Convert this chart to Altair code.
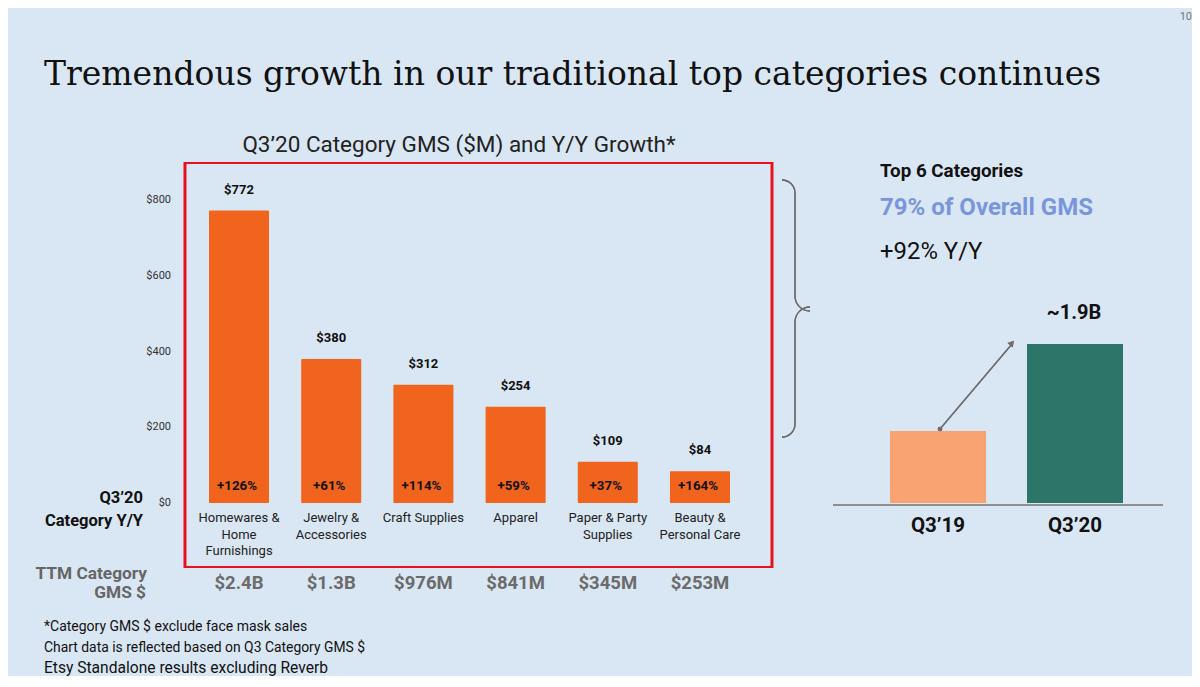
import altair as alt
import pandas as pd

OFF = 8
def P(v):
    return v - OFF

BG = "#D9E6F4"
ORANGE = "#F1641E"
SALMON = "#F9A272"
GREEN = "#2D7568"
BLUE = "#7A96DA"
FONT = "Roboto"

# ---------------- data ----------------
cat_keys = ["Homewares", "Jewelry", "Craft", "Apparel", "Paper", "Beauty"]
cat_labels = ["Homewares &\nHome\nFurnishings", "Jewelry &\nAccessories", "Craft Supplies",
              "Apparel", "Paper & Party\nSupplies", "Beauty &\nPersonal Care"]
gms_values = [772, 380, 312, 254, 109, 84]
gms_labels = ["$772", "$380", "$312", "$254", "$109", "$84"]
growth_labels = ["+126%", "+61%", "+114%", "+59%", "+37%", "+164%"]
ttm_labels = ["$2.4B", "$1.3B", "$976M", "$841M", "$345M", "$253M"]
y_ticks = [0, 200, 400, 600, 800]
y_tick_labels = ["$0", "$200", "$400", "$600", "$800"]

periods = ["Q3’19", "Q3’20"]
period_values = [0.86, 1.9]
period_colors = [SALMON, GREEN]

footnotes = ["*Category GMS $ exclude face mask sales",
             "Chart data is reflected based on Q3 Category GMS $",
             "Etsy Standalone results excluding Reverb"]

# ---------------- tables ----------------
df = pd.DataFrame({"cat": cat_keys, "label": cat_labels, "gms": gms_values,
                   "gms_label": gms_labels, "growth": growth_labels, "ttm": ttm_labels})
ticks = pd.DataFrame({"v": y_ticks, "t": y_tick_labels})
dr = pd.DataFrame({"p": periods, "v": period_values, "c": period_colors})

x_left = alt.X("cat:N", sort=cat_keys, axis=None,
               scale=alt.Scale(type="band", domain=cat_keys, range=[P(209), P(730)],
                               paddingInner=0.349, paddingOuter=0))
y_left_gms = alt.Y("gms:Q", axis=None,
                   scale=alt.Scale(domain=[0, 800], range=[P(503), P(200)], nice=False, zero=True))
y_left_tick = alt.Y("v:Q", axis=None,
                    scale=alt.Scale(domain=[0, 800], range=[P(503), P(200)], nice=False, zero=True))
x_right = alt.X("p:N", sort=periods, axis=None,
                scale=alt.Scale(type="band", domain=periods, range=[P(890), P(1123)],
                                paddingInner=0.2993, paddingOuter=0))
y_right = alt.Y("v:Q", axis=None,
                scale=alt.Scale(domain=[0, 1.9], range=[P(503), P(344)], nice=False, zero=True))

base = alt.Chart(df)
layers = []

# left bars
layers.append(base.mark_bar(color=ORANGE, cornerRadius=1).encode(x=x_left, y=y_left_gms,
              y2=alt.datum(0)))
# value labels
layers.append(base.mark_text(font=FONT, fontSize=13, fontWeight="bold", color="#111",
                             baseline="middle", dy=-21).encode(x=x_left, y=y_left_gms, text="gms_label:N"))
# growth labels inside bars
layers.append(base.mark_text(font=FONT, fontSize=13.3, fontWeight="bold", color="#111",
                             baseline="middle", dx=-2).encode(x=x_left, y=alt.value(P(486)), text="growth:N"))
# category labels
layers.append(base.mark_text(font=FONT, fontSize=13, color="#222", baseline="top",
                             lineBreak="\n", lineHeight=16.5).encode(
    x=x_left, y=alt.value(P(512)), text="label:N"))
# TTM values
layers.append(base.mark_text(font=FONT, fontSize=18.5, fontWeight="bold", color="#6B6B6B",
                             baseline="middle").encode(x=x_left, y=alt.value(P(583)), text="ttm:N"))
# y tick labels
layers.append(alt.Chart(ticks).mark_text(font=FONT, fontSize=11, color="#333", align="right",
                                         baseline="middle").encode(
    x=alt.value(P(171)), y=y_left_tick, text="t:N"))

# red frame
layers.append(alt.Chart(df).mark_rect(fillOpacity=0, stroke="#E8111C", strokeWidth=2.2).encode(
    x=alt.value(P(185)), x2=alt.value(P(772)), y=alt.value(P(163)), y2=alt.value(P(567))))

# right bars
rb = alt.Chart(dr)
layers.append(rb.mark_bar().encode(x=x_right, y=y_right, y2=alt.datum(0),
                                   color=alt.Color("c:N", scale=None)))
layers.append(rb.mark_text(font=FONT, fontSize=20.5, fontWeight="bold", color="#111",
                           baseline="middle").encode(x=x_right, y=alt.value(P(526)), text="p:N"))
# right baseline
layers.append(rb.mark_rule(color="#8A8A8A", strokeWidth=1.5).encode(
    x=alt.value(P(833)), x2=alt.value(P(1163)), y=alt.value(P(505))))
# arrow
layers.append(rb.mark_rule(color="#6E6E6E", strokeWidth=1.3).encode(
    x=alt.value(P(940)), x2=alt.value(P(1012)), y=alt.value(P(429)), y2=alt.value(P(344))))
layers.append(rb.mark_point(shape="circle", filled=True, color="#6E6E6E", size=22, opacity=1).encode(
    x=alt.value(P(940)), y=alt.value(P(429))))
layers.append(rb.mark_point(shape="triangle-up", filled=True, color="#6E6E6E", size=45, opacity=1,
                            angle=40).encode(x=alt.value(P(1012)), y=alt.value(P(343))))

# brace
BR = "#6A6A6A"
layers.append(rb.mark_rule(color=BR, strokeWidth=1.3).encode(
    x=alt.value(P(795)), y=alt.value(P(193)), y2=alt.value(P(296))))
layers.append(rb.mark_rule(color=BR, strokeWidth=1.3).encode(
    x=alt.value(P(795)), y=alt.value(P(322)), y2=alt.value(P(424))))
arcs = [  # (cx, cy, r, theta, theta2)
    (782, 193, 13, 0, 1.5708),
    (810, 296, 15, 3.1416, 4.7124),
    (810, 322, 15, 4.7124, 6.2832),
    (782, 424, 13, 1.5708, 3.1416),
]
for cx, cy, r, t1, t2 in arcs:
    layers.append(rb.mark_arc(color=BR, innerRadius=r - 0.65, outerRadius=r + 0.65,
                              theta=t1, theta2=t2).encode(x=alt.value(P(cx)), y=alt.value(P(cy))))

# texts
def txt(s, x, y, size, color="#111", weight="normal", align="left", font=FONT):
    return alt.Chart(pd.DataFrame({"t": [s]})).mark_text(
        font=font, fontSize=size, fontWeight=weight, color=color, align=align, baseline="middle"
    ).encode(x=alt.value(P(x)), y=alt.value(P(y)), text="t:N")

layers.append(txt("Tremendous growth in our traditional top categories continues", 44, 75, 33,
                  color="#111", font="DejaVu Serif"))
layers.append(txt("10", 1192, 17, 11, color="#777", align="right"))
layers.append(txt("Q3’20 Category GMS ($M) and Y/Y Growth*", 459, 145, 22.5, color="#222",
                  weight="normal", align="center"))
layers.append(txt("Q3’20", 143, 498, 16.5, weight="bold", align="right"))
layers.append(txt("Category Y/Y", 143, 521, 16.5, weight="bold", align="right"))
layers.append(txt("TTM Category", 147, 574, 17.3, color="#666", weight="bold", align="right"))
layers.append(txt("GMS $", 146, 593, 17.3, color="#666", weight="bold", align="right"))
layers.append(txt(footnotes[0], 44, 627, 14))
layers.append(txt(footnotes[1], 44, 648, 13.9))
layers.append(txt(footnotes[2], 44, 668, 15.6))
layers.append(txt("Top 6 Categories", 880, 171, 18.8, weight="bold"))
layers.append(txt("79% of Overall GMS", 880, 208, 24, color=BLUE, weight="bold"))
layers.append(txt("+92% Y/Y", 880, 252, 23.9))
layers.append(txt("~1.9B", 1074, 313, 20, weight="bold", align="center"))

chart = alt.layer(*layers).resolve_scale(x="independent", y="independent", color="independent").properties(
    width=1184, height=668, background=BG, padding=0, autosize="none"
).configure_view(stroke=None)

chart.save("out.html", embed_options={"renderer": "svg", "actions": False})
